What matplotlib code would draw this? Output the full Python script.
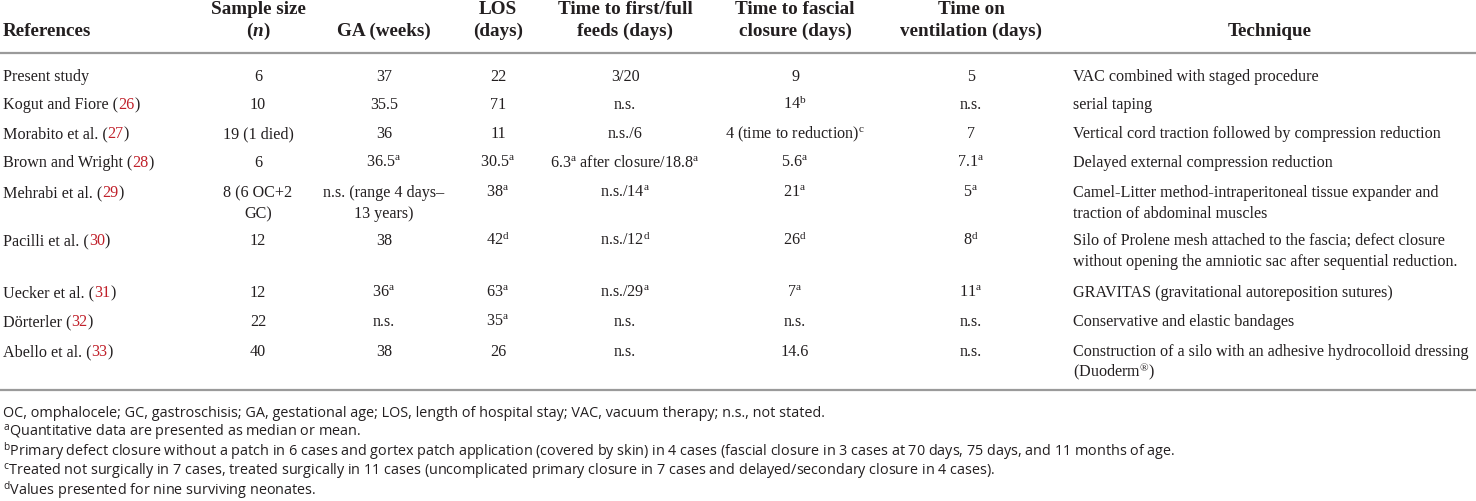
import re
import matplotlib
matplotlib.use("Agg")
import matplotlib.pyplot as plt
from matplotlib.transforms import Affine2D

# ---------------- data ----------------
headers = [
    ["References"],
    ["Sample size", "($\\mathit{n}$)"],
    ["GA (weeks)"],
    ["LOS", "(days)"],
    ["Time to first/full", "feeds (days)"],
    ["Time to fascial", "closure (days)"],
    ["Time on", "ventilation (days)"],
    ["Technique"],
]
references = ["Present study", "Kogut and Fiore", "Morabito et al.", "Brown and Wright",
              "Mehrabi et al.", "Pacilli et al.", "Uecker et al.", "Dörterler", "Abello et al."]
ref_numbers = ["", "26", "27", "28", "29", "30", "31", "32", "33"]
sample_size = ["6", "10", "19 (1 died)", "6", "8 (6 OC+2\nGC)", "12", "12", "22", "40"]
ga_weeks = ["37", "35.5", "36", "36.5^a", "n.s. (range 4 days–\n13 years)", "38", "36^a", "n.s.", "38"]
los_days = ["22", "71", "11", "30.5^a", "38^a", "42^d", "63^a", "35^a", "26"]
feeds_days = ["3/20", "n.s.", "n.s./6", "6.3^a after closure/18.8^a", "n.s./14^a", "n.s./12^d",
              "n.s./29^a", "n.s.", "n.s."]
fascial_days = ["9", "14^b", "4 (time to reduction)^c", "5.6^a", "21^a", "26^d", "7^a", "n.s.", "14.6"]
ventilation_days = ["5", "n.s.", "7", "7.1^a", "5^a", "8^d", "11^a", "n.s.", "n.s."]
technique = [
    "VAC combined with staged procedure",
    "serial taping",
    "Vertical cord traction followed by compression reduction",
    "Delayed external compression reduction",
    "Camel-Litter method-intraperitoneal tissue expander and\ntraction of abdominal muscles",
    "Silo of Prolene mesh attached to the fascia; defect closure\nwithout opening the amniotic sac after sequential reduction.",
    "GRAVITAS (gravitational autoreposition sutures)",
    "Conservative and elastic bandages",
    "Construction of a silo with an adhesive hydrocolloid dressing\n(Duoderm^®)",
]
footnotes = [
    "OC, omphalocele; GC, gastroschisis; GA, gestational age; LOS, length of hospital stay; VAC, vacuum therapy; n.s., not stated.",
    "^aQuantitative data are presented as median or mean.",
    "^bPrimary defect closure without a patch in 6 cases and gortex patch application (covered by skin) in 4 cases (fascial closure in 3 cases at 70 days, 75 days, and 11 months of age.",
    "^cTreated not surgically in 7 cases, treated surgically in 11 cases (uncomplicated primary closure in 7 cases and delayed/secondary closure in 4 cases).",
    "^dValues presented for nine surviving neonates.",
]

# ---------------- layout ----------------
W, H = 1476, 501
plt.rcParams['mathtext.fontset'] = 'custom'
plt.rcParams['mathtext.rm'] = 'Liberation Serif'
plt.rcParams['mathtext.it'] = 'Liberation Serif:italic:bold'
plt.rcParams['mathtext.bf'] = 'Liberation Serif:bold'

fig = plt.figure(figsize=(W / 100, H / 100), dpi=100)
fig.patch.set_facecolor('white')
T = Affine2D().scale(1, -1).translate(0, H)  # pixel coords, origin top-left

TXT = '#231f20'
RED = '#c0202a'
GRID = '#9a9a9a'
SERIF = 'Liberation Serif'
SANS = 'Open Sans'
BODY = 11.6
HEAD = 13.8
FOOT = 10.4


def sup(s):
    return re.sub(r"\^(\S)", r"$\\mathregular{^{\1}}$", s)


def put(x, y, s, ha='center', size=BODY, weight='normal', family=SERIF, color=TXT):
    return fig.text(x, y, s, transform=T, ha=ha, va='baseline', fontsize=size,
                    fontweight=weight, family=family, color=color)


def put_lines(x, y, s, step=21, **kw):
    for i, line in enumerate(s.split("\n")):
        put(x, y + i * step, sup(line), **kw)


col_x = [3, 258, 384, 498, 625, 795, 971, 1270]
tech_x = 1073
head_base = [14, 36]
row_base = [81, 109, 138, 167, 197, 245, 297, 326, 356]

# header
for j, h in enumerate(headers):
    ha = 'left' if j == 0 else 'center'
    base = [36] if len(h) == 1 else head_base
    for k, line in enumerate(h):
        put(col_x[j], base[k], line, ha=ha, size=HEAD, weight='bold')

# rules
for yy in [53, 390]:
    fig.add_artist(plt.Line2D([0, W], [yy, yy], transform=T, color=GRID, lw=1.6))

renderer = fig.canvas.get_renderer()

columns = [sample_size, ga_weeks, los_days, feeds_days, fascial_days, ventilation_days]
for i in range(len(references)):
    y = row_base[i]
    # reference with red number
    if ref_numbers[i]:
        t1 = put(col_x[0], y, references[i] + " (", ha='left')
        x1 = t1.get_window_extent(renderer).x1
        t2 = put(x1, y, ref_numbers[i], ha='left', color=RED)
        x2 = t2.get_window_extent(renderer).x1
        put(x2, y, ")", ha='left')
    else:
        put(col_x[0], y, references[i], ha='left')
    for j, col in enumerate(columns):
        put_lines(col_x[j + 1], y, col[i])
    put_lines(tech_x, y, technique[i], ha='left')

for k, fn in enumerate(footnotes):
    put(3, 417 + 19.4 * k, sup(fn), ha='left', size=FOOT, family=SANS)

fig.savefig("out.png", dpi=100, facecolor='white')
